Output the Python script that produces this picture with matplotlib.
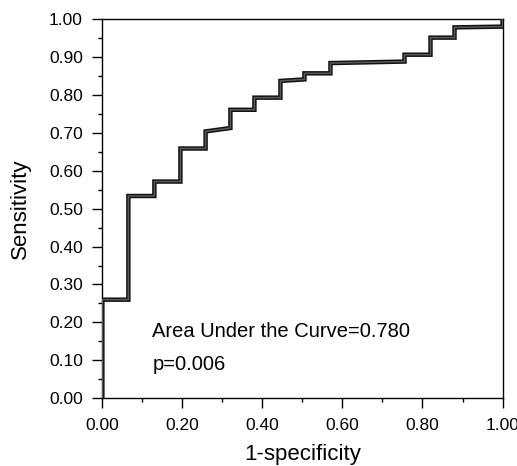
import numpy as np
import matplotlib.pyplot as plt
from matplotlib.ticker import MultipleLocator, FormatStrFormatter

plt.rcParams['font.family'] = ['Liberation Sans', 'DejaVu Sans']

# ROC step points (1-specificity, sensitivity)
fpr = [0.0, 0.0, 0.065, 0.065, 0.13, 0.13, 0.195, 0.195, 0.258, 0.258, 0.32, 0.32, 0.38, 0.38,
       0.445, 0.445, 0.505, 0.505, 0.57, 0.57, 0.755, 0.755, 0.82, 0.82, 0.88, 0.88, 1.0, 1.0]
tpr = [0.0, 0.26, 0.26, 0.533, 0.533, 0.571, 0.571, 0.658, 0.658, 0.703, 0.712, 0.76, 0.76, 0.792,
       0.792, 0.836, 0.84, 0.856, 0.856, 0.883, 0.887, 0.905, 0.905, 0.95, 0.95, 0.977, 0.979, 1.0]
auc_text = "Area Under the Curve=0.780"
p_text = "p=0.006"

fig = plt.figure(figsize=(5.17, 4.66), dpi=100)
ax = fig.add_axes([0.198, 0.145, 0.774, 0.815])

# stepped ROC line: dark outline with grey core
ax.plot(fpr, tpr, color='#111111', lw=3.2, solid_joinstyle='miter', zorder=3)
ax.plot(fpr, tpr, color='#5a5a5a', lw=1.1, solid_joinstyle='miter', zorder=4)

ax.set_xlim(0, 1)
ax.set_ylim(0, 1)
ax.xaxis.set_major_locator(MultipleLocator(0.2))
ax.xaxis.set_minor_locator(MultipleLocator(0.1))
ax.yaxis.set_major_locator(MultipleLocator(0.1))
ax.yaxis.set_minor_locator(MultipleLocator(0.05))
ax.xaxis.set_major_formatter(FormatStrFormatter('%.2f'))
ax.yaxis.set_major_formatter(FormatStrFormatter('%.2f'))
ax.tick_params(which='major', direction='out', length=7, width=1.0, labelsize=12.5, pad=7)
ax.tick_params(which='minor', direction='out', length=3, width=1.0)

for s in ax.spines.values():
    s.set_linewidth(1.0)

ax.text(0.125, 0.162, auc_text, fontsize=14.5, va='baseline', ha='left')
ax.text(0.125, 0.075, p_text, fontsize=14.5, va='baseline', ha='left')

ax.set_xlabel("1-specificity", fontsize=16, labelpad=8)
ax.set_ylabel("Sensitivity", fontsize=16, labelpad=13)

plt.savefig('out.png', dpi=100)
